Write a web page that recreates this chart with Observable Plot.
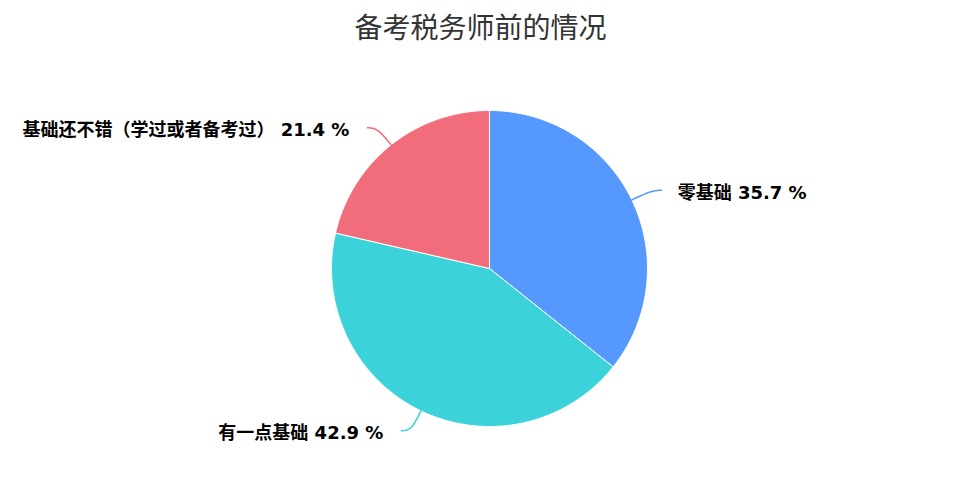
<!DOCTYPE html>
<html>
<head>
<meta charset="utf-8">
<script src="https://cdn.jsdelivr.net/npm/d3@7"></script>
<script src="https://cdn.jsdelivr.net/npm/@observablehq/plot@0.6"></script>
<style>
  html, body { margin: 0; padding: 0; background: #fff; }
</style>
</head>
<body>
<div id="chart"></div>
<script>
const title = "备考税务师前的情况";
const labels = ["零基础", "有一点基础", "基础还不错（学过或者备考过）"];
const values = [35.7, 42.9, 21.4];
const colors = ["#5599ff", "#3bd3d9", "#f26d7b"];

const arcs = d3.pie().sort(null).value(d => d)(values);

// slice polygons (unit circle)
const slicePts = [];
arcs.forEach((a, i) => {
  slicePts.push({k: labels[i], x: 0, y: 0});
  const n = Math.max(8, Math.ceil((a.endAngle - a.startAngle) * 80));
  for (let j = 0; j <= n; j++) {
    const t = a.startAngle + (a.endAngle - a.startAngle) * j / n;
    slicePts.push({k: labels[i], x: Math.sin(t), y: Math.cos(t)});
  }
  slicePts.push({k: labels[i], x: 0, y: 0});
});

// leader lines
const R = 158;
const k1 = (R + 22) / R;
const seg = 10 / R;
const leaderPts = [];
const labelPts = [];
arcs.forEach((a, i) => {
  const m = (a.startAngle + a.endAngle) / 2;
  const sx = Math.sin(m), sy = Math.cos(m);
  const side = sx >= 0 ? 1 : -1;
  const cx = sx * k1, cy = sy * k1;
  const ex = cx + side * seg;
  leaderPts.push({k: labels[i], x: sx, y: sy});
  leaderPts.push({k: labels[i], x: cx, y: cy});
  leaderPts.push({k: labels[i], x: ex, y: cy});
  labelPts.push({k: labels[i], x: ex, y: cy, side, text: `${labels[i]} ${values[i].toFixed(1)} %`});
});

const chart = Plot.plot({
  width: 960,
  height: 480,
  margin: 0,
  style: {fontFamily: '"DejaVu Sans", "Noto Sans CJK SC", sans-serif', background: "#fff"},
  x: {domain: [-1, 1], range: [489 - R, 489 + R], axis: null},
  y: {domain: [-1, 1], range: [268 + R, 268 - R], axis: null},
  color: {domain: labels, range: colors},
  marks: [
    Plot.line(slicePts, {x: "x", y: "y", z: "k", fill: "k", stroke: "#fff", strokeWidth: 1, curve: "linear"}),
    Plot.line(leaderPts, {x: "x", y: "y", z: "k", stroke: "k", strokeWidth: 1.5, curve: "basis"}),
    Plot.text(labelPts.filter(d => d.side > 0), {x: "x", y: "y", text: "text", textAnchor: "start", dx: 16, dy: 3, fontSize: 18, fontWeight: "bold", fill: "#000"}),
    Plot.text(labelPts.filter(d => d.side < 0), {x: "x", y: "y", text: "text", textAnchor: "end", dx: -18, dy: 3, fontSize: 18, fontWeight: "bold", fill: "#000"}),
    Plot.text([title], {frameAnchor: "top", dy: 18, fontSize: 28, fill: "#333", fontFamily: '"Noto Sans CJK SC", sans-serif'})
  ]
});
document.getElementById("chart").appendChild(chart);
</script>
</body>
</html>
